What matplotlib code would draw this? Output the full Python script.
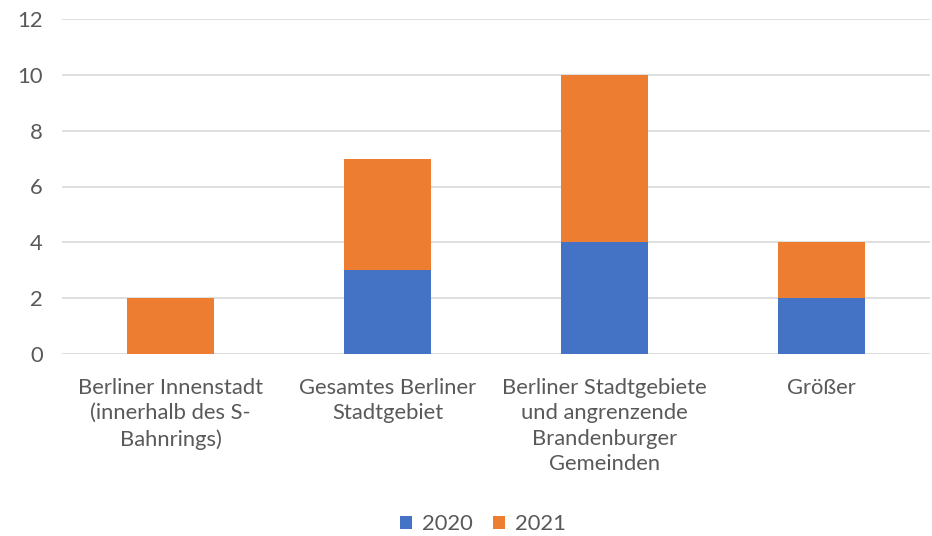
import matplotlib
matplotlib.use("Agg")
import matplotlib.pyplot as plt
import numpy as np

categories = ["Berliner Innenstadt\n(innerhalb des S-\nBahnrings)",
              "Gesamtes Berliner\nStadtgebiet",
              "Berliner Stadtgebiete\nund angrenzende\nBrandenburger\nGemeinden",
              "Größer"]
series_names = ["2020", "2021"]
values_2020 = [0, 3, 4, 2]
values_2021 = [2, 4, 6, 2]
yticks = [0, 2, 4, 6, 8, 10, 12]

plt.rcParams['font.family'] = ['Lato', 'DejaVu Sans']
txt = '#595959'
fs = 15.8

fig = plt.figure(figsize=(9.32, 5.36), dpi=100)
ax = fig.add_axes([62/932, 1-354/536, (930-62)/932, (354-19)/536])

x = np.arange(len(categories))
w = 0.4
ax.bar(x, values_2020, w, color='#4472C4', label=series_names[0], zorder=3)
ax.bar(x, values_2021, w, bottom=values_2020, color='#ED7D31', label=series_names[1], zorder=3)

ax.set_xlim(-0.5, len(categories)-0.5)
ax.set_ylim(0, 12)
ax.set_yticks(yticks)
ax.set_yticklabels([str(t) for t in yticks], color=txt, fontsize=fs)
ax.set_xticks(x)
ax.set_xticklabels(categories, color=txt, fontsize=fs, linespacing=1.35)
ax.tick_params(axis='both', length=0)
ax.tick_params(axis='y', pad=14)
ax.tick_params(axis='x', pad=17)
ax.grid(axis='y', color='#D9D9D9', linewidth=1.2, zorder=0)
for s in ax.spines.values():
    s.set_visible(False)

leg = fig.legend(loc='center', bbox_to_anchor=(483/932, 1-524/536), ncol=2, frameon=False,
                 fontsize=fs, handlelength=0.55, handleheight=0.55, handletextpad=0.45, columnspacing=0.9)
for t in leg.get_texts():
    t.set_color(txt)

fig.savefig("out.png", dpi=100)
